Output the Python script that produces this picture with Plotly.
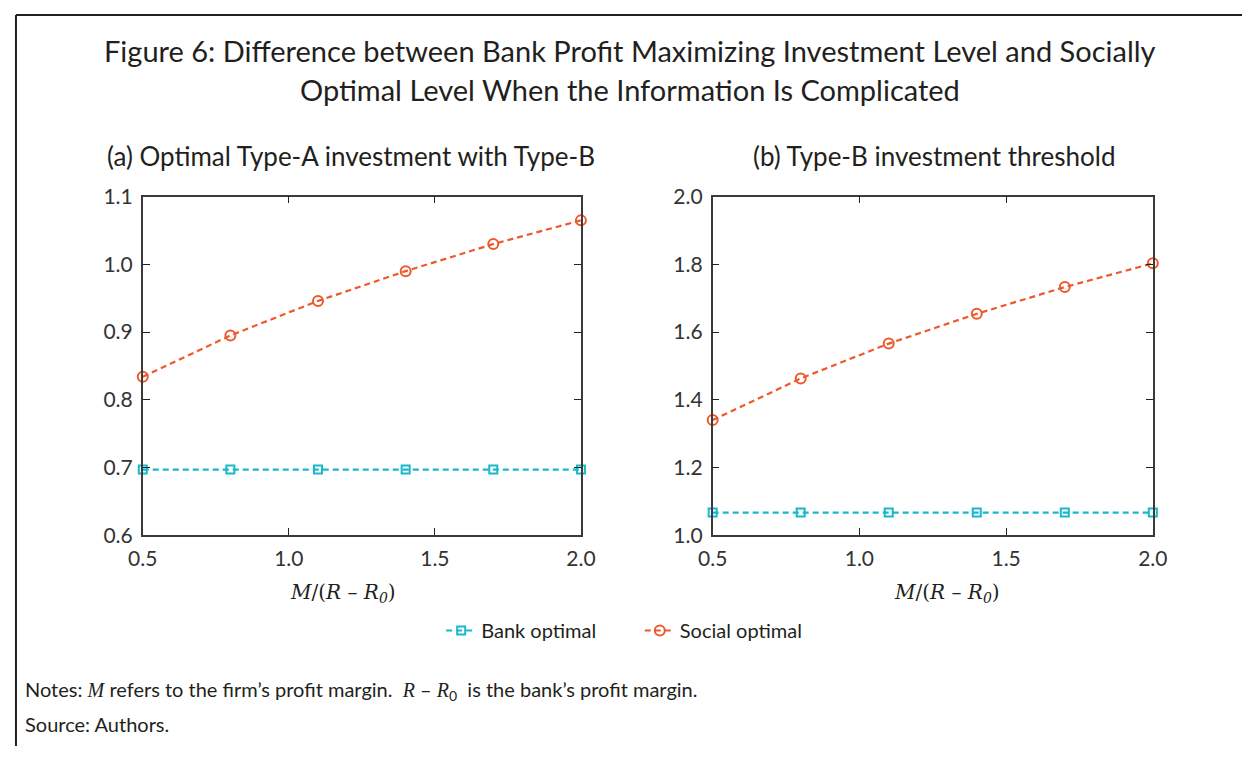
import plotly.graph_objects as go
from plotly.subplots import make_subplots

# Figure size (page px); body margin removed via post_script
WF, HF = 1257, 757
# Observed mapping of page px -> picture px (picture = O + S * page)
SX, OXS = 0.978, 13.0
SY, OYS = 0.974, 11.0

x_vals = [0.5, 0.8, 1.1, 1.4, 1.7, 2.0]
bank_a = [0.697, 0.697, 0.697, 0.697, 0.697, 0.697]
social_a = [0.834, 0.895, 0.946, 0.990, 1.030, 1.065]
bank_b = [1.067, 1.067, 1.067, 1.067, 1.067, 1.067]
social_b = [1.340, 1.463, 1.566, 1.654, 1.733, 1.803]

x_ticks = [0.5, 1.0, 1.5, 2.0]
ya_ticks = [0.6, 0.7, 0.8, 0.9, 1.0, 1.1]
yb_ticks = [1.0, 1.2, 1.4, 1.6, 1.8, 2.0]

title_lines = ["Figure 6: Difference between Bank Profit Maximizing Investment Level and Socially",
               "Optimal Level When the Information Is Complicated"]
panel_titles = ["(a) Optimal Type-A investment with Type-B", "(b) Type-B investment threshold"]

CYAN = "#19b8cb"
ORANGE = "#ee592c"
TXT = "#231f20"
FONT = "Lato"
SERIF = "Liberation Serif"


def page_x(t):
    return max((t - OXS) / SX, 1.0)


def page_y(t):
    return max((t - OYS) / SY, 1.0)


def px_x(t):
    return page_x(t) / WF


def px_y(t):
    return 1 - page_y(t) / HF


fig = make_subplots(rows=1, cols=2)
fig.update_layout(
    xaxis=dict(domain=[px_x(141), px_x(580)]),
    xaxis2=dict(domain=[px_x(712), px_x(1153)]),
    yaxis=dict(domain=[px_y(536), px_y(195)]),
    yaxis2=dict(domain=[px_y(536), px_y(195)]),
)

DASH = "6px,4px"
for col, (bank, social) in enumerate([(bank_a, social_a), (bank_b, social_b)], start=1):
    fig.add_trace(go.Scatter(
        x=x_vals, y=bank, mode="lines+markers", name="Bank optimal",
        line=dict(color=CYAN, width=2.2, dash=DASH),
        marker=dict(symbol="square-open", size=8, color=CYAN, line=dict(width=2, color=CYAN)),
        showlegend=(col == 1), legend="legend", cliponaxis=False,
    ), row=1, col=col)
    fig.add_trace(go.Scatter(
        x=x_vals, y=social, mode="lines+markers", name="Social optimal",
        line=dict(color=ORANGE, width=2.2, dash=DASH),
        marker=dict(symbol="circle-open", size=10, color=ORANGE, line=dict(width=2, color=ORANGE)),
        showlegend=(col == 1), legend="legend2", cliponaxis=False,
    ), row=1, col=col)

axis_common = dict(
    showgrid=False, zeroline=False, showline=True, linecolor="#3a3a3a", linewidth=1.6,
    mirror="ticks", ticks="inside", ticklen=7, tickwidth=1.3, tickcolor="#222",
    tickfont=dict(family=FONT, size=21, color="#333"),
)
for i in (1, 2):
    fig.update_xaxes(range=[0.5, 2.0], tickvals=x_ticks, ticktext=[f"{v:.1f}" for v in x_ticks],
                     ticklabelstandoff=4, row=1, col=i, **axis_common)
fig.update_yaxes(range=[0.6, 1.1], tickvals=ya_ticks, ticktext=[f"{v:.1f}" for v in ya_ticks],
                 ticklabelstandoff=4, row=1, col=1, **axis_common)
fig.update_yaxes(range=[1.0, 2.0], tickvals=yb_ticks, ticktext=[f"{v:.1f}" for v in yb_ticks],
                 ticklabelstandoff=4, row=1, col=2, **axis_common)


def ann(text, tx, ty, size, xanchor="center", family=FONT):
    return dict(text=text, x=px_x(tx), y=px_y(ty), xref="paper", yref="paper",
                xanchor=xanchor, yanchor="middle", showarrow=False,
                font=dict(family=family, size=size, color=TXT))


annotations = [
    ann(title_lines[0], 629, 48, 29),
    ann(title_lines[1], 629, 87, 29),
    ann(panel_titles[0], 350, 154, 26),
    ann(panel_titles[1], 934, 154, 26),
]
xlabel = "<i>M</i>/(<i>R</i> – <i>R<sub>0</sub></i>)"
for cx in (342, 947):
    annotations.append(ann(xlabel, cx, 594, 20, family="DejaVu Serif"))

m_it = f"<i><span style='font-family:{SERIF}'>M</span></i>"
r_it = f"<i><span style='font-family:{SERIF}'>R</span></i>"
notes = (f"Notes: {m_it} refers to the firm’s profit margin.  {r_it} – {r_it}<sub>0</sub>  "
         "is the bank’s profit margin.")
annotations.append(ann(notes, 21, 692, 20, xanchor="left"))
annotations.append(ann("Source: Authors.", 21, 726, 20, xanchor="left"))

shapes = [
    dict(type="line", xref="paper", yref="paper", x0=px_x(11), x1=1, y0=px_y(8), y1=px_y(8),
         line=dict(color="#231f20", width=2)),
    dict(type="line", xref="paper", yref="paper", x0=px_x(11), x1=px_x(11), y0=px_y(8), y1=0,
         line=dict(color="#231f20", width=2)),
]

legend_common = dict(orientation="h", yanchor="middle", xanchor="left",
                     font=dict(family=FONT, size=20, color=TXT),
                     bgcolor="rgba(0,0,0,0)", itemwidth=30)

fig.update_layout(
    width=WF, height=HF, margin=dict(l=0, r=0, t=0, b=0),
    paper_bgcolor="white", plot_bgcolor="white",
    annotations=annotations, shapes=shapes,
    legend=dict(x=page_x(440) / WF, y=px_y(632), **legend_common),
    legend2=dict(x=page_x(639) / WF, y=px_y(632), **legend_common),
    font=dict(family=FONT),
)

fig.write_html("out.html", config={"displayModeBar": False},
               post_script="document.body.style.margin='0px';")
